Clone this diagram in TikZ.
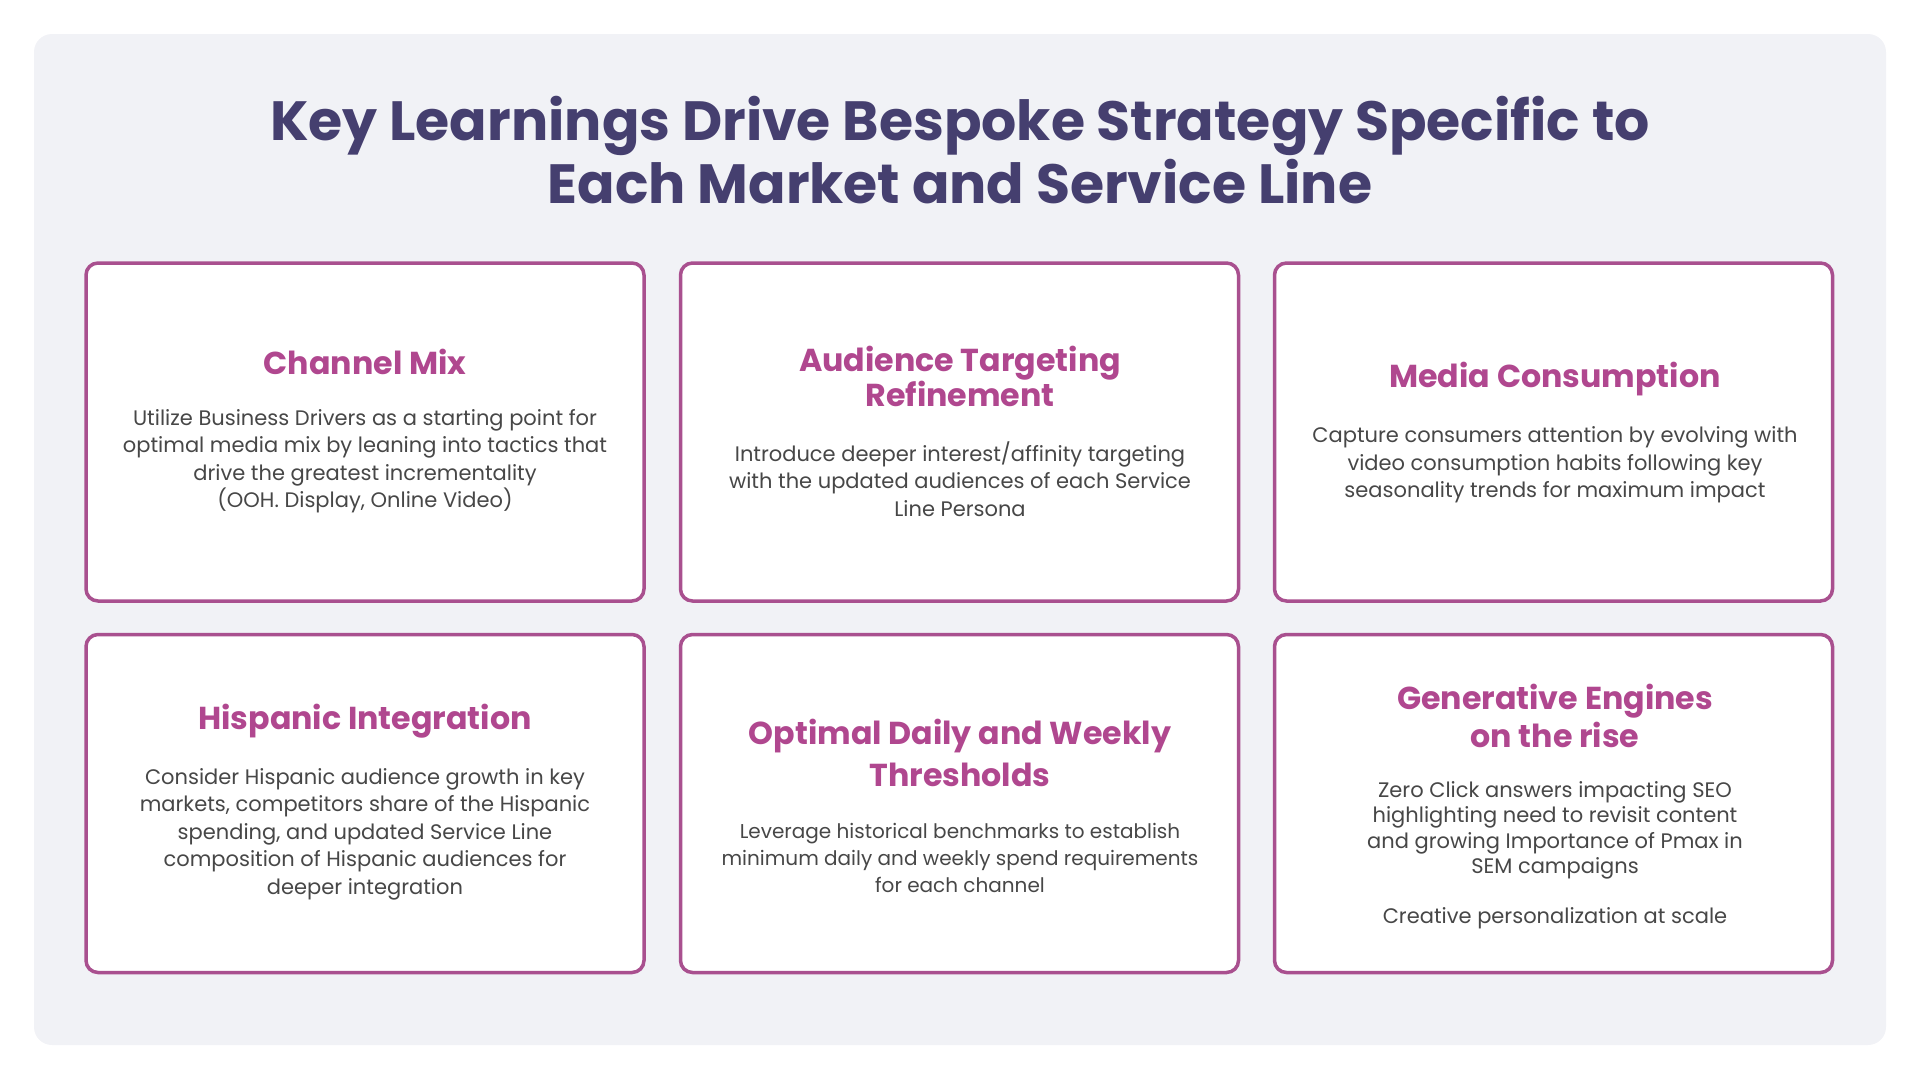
\documentclass[tikz,border=0pt]{standalone}
\usepackage{fontspec}
\setmainfont{Poppins}
\usetikzlibrary{positioning}
\definecolor{panelgray}{HTML}{F1F2F6}
\definecolor{titleblue}{HTML}{453F6F}
\definecolor{cardedge}{HTML}{A9508F}
\definecolor{headpink}{HTML}{B0478F}
\definecolor{bodygray}{HTML}{474747}
\tikzset{
     card/.style={
           rectangle,
           rounded corners=12pt,
           draw=cardedge, line width=3.5pt,
           fill=white,
           minimum width=558pt,
           minimum height=338pt,
           },
     cardhead/.style={
           text=headpink,
           align=center,
           inner sep=0pt,
           font=\bfseries\fontsize{31.7}{34}\selectfont,
           },
     cardtext/.style={
           text=bodygray,
           align=center,
           inner sep=0pt,
           font=\fontsize{21}{27.5}\selectfont,
           },
}

\begin{document}
\begin{tikzpicture}[x=1pt,y=-1pt]
	\useasboundingbox (0,0) rectangle (1920,1080);
	\fill[panelgray, rounded corners=18pt] (34,34) rectangle (1886,1045);

	\node[text=titleblue, align=center, inner sep=0pt,
		font=\bfseries\fontsize{55.3}{63}\selectfont] (title) at (960,150)
		{Key Learnings Drive Bespoke Strategy Specific to\\Each Market and Service Line};

	% cards
	\node[card] (mix) at (365,432) {};
	\node[card, right=33pt of mix] (audience) {};
	\node[card, right=32.5pt of audience] (media) {};
	\node[card, below=30pt of mix] (hispanic) {};
	\node[card, right=33pt of hispanic] (thresholds) {};
	\node[card, right=32.5pt of thresholds] (engines) {};

	% texts
	\node[cardhead] (mixhead) at (365,362) {Channel Mix};
	\node[cardtext] (mixtext) at (365,461) {
		Utilize Business Drivers as a starting point for\\
		optimal media mix by leaning into tactics that\\
		drive the greatest incrementality\\
		(OOH. Display, Online Video)};

	\node[cardhead] (audhead) at (960,376) {Audience Targeting\\Refinement};
	\node[cardtext] (audtext) at (960,479) {
		Introduce deeper interest/affinity targeting\\
		with the updated audiences of each Service\\
		Line Persona};

	\node[cardhead] (mediahead) at (1555,379) {Media Consumption};
	\node[cardtext] (mediatext) at (1555,465) {
		Capture consumers attention by evolving with\\
		video consumption habits following key\\
		seasonality trends for maximum impact};

	\node[cardhead] (hisphead) at (365,721) {Hispanic Integration};
	\node[cardtext] (hisptext) at (365,834) {
		Consider Hispanic audience growth in key\\
		markets, competitors share of the Hispanic\\
		spending, and updated Service Line\\
		composition of Hispanic audiences for\\
		deeper integration};

	\node[cardhead, font=\bfseries\fontsize{31.7}{42}\selectfont] (threshhead) at (960,753)
		{Optimal Daily and Weekly\\Thresholds};
	\node[cardtext, font=\fontsize{20}{27}\selectfont] (threshtext) at (960,858) {
		Leverage historical benchmarks to establish\\
		minimum daily and weekly spend requirements\\
		for each channel};

	\node[cardhead, font=\bfseries\fontsize{31.7}{38}\selectfont] (enghead) at (1555,716)
		{Generative Engines\\on the rise};
	\node[cardtext, font=\fontsize{21}{25.5}\selectfont] (engtext) at (1555,855) {
		Zero Click answers impacting SEO\\
		highlighting need to revisit content\\
		and growing Importance of Pmax in\\
		SEM campaigns\\[24pt]
		Creative personalization at scale};
\end{tikzpicture}
\end{document}
